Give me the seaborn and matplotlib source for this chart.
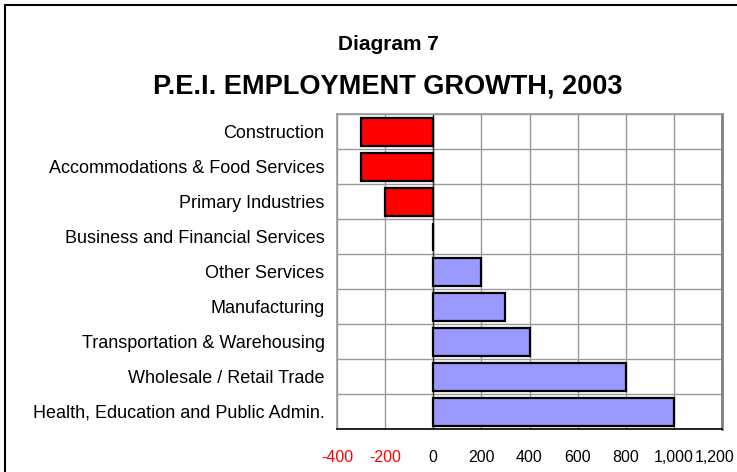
import numpy as np
import matplotlib
matplotlib.use("Agg")
import matplotlib.pyplot as plt
import matplotlib.transforms as mtransforms
from matplotlib.lines import Line2D
import seaborn as sns

# data
categories = [
    "Construction",
    "Accommodations & Food Services",
    "Primary Industries",
    "Business and Financial Services",
    "Other Services",
    "Manufacturing",
    "Transportation & Warehousing",
    "Wholesale / Retail Trade",
    "Health, Education and Public Admin.",
]
growth = [-300, -300, -200, 0, 200, 300, 400, 800, 1000]
x_ticks = [-400, -200, 0, 200, 400, 600, 800, 1000, 1200]
x_tick_labels = ["-400", "-200", "0", "200", "400", "600", "800", "1,000", "1,200"]

sns.set_style("white")
plt.rcParams["font.family"] = ["Liberation Sans", "DejaVu Sans"]
plt.rcParams["text.color"] = "black"
plt.rcParams["xtick.color"] = "black"
plt.rcParams["ytick.color"] = "black"

fig = plt.figure(figsize=(7.37, 4.72), dpi=100)
ax = fig.add_axes([337 / 737, 1 - 429 / 472, 385 / 737, 315 / 472])

colors = ["#FF0000" if v < 0 else "#9999FF" for v in growth]
sns.barplot(x=growth, y=categories, hue=categories, palette=colors, legend=False,
            orient="h", width=0.8, edgecolor="black", linewidth=1.6, saturation=1,
            ax=ax, zorder=3)

ax.set_xlim(-400, 1200)
ax.set_ylim(8.5, -0.5)
ax.set_xticks(x_ticks)
ax.set_xticklabels(x_tick_labels, fontsize=11.5)
ax.tick_params(axis="x", direction="out", length=5, width=1, color="black", pad=10)
ax.tick_params(axis="y", length=0, labelsize=13, pad=9)
for lbl, v in zip(ax.get_xticklabels(), x_ticks):
    lbl.set_color("red" if v < 0 else "black")
for lbl in ax.get_yticklabels():
    lbl.set_color("black")
ax.set_yticks(np.arange(-0.5, 9, 1), minor=True)
ax.tick_params(axis="y", which="minor", length=0)

# keep the last label inside the figure (after tick_params, which resets transforms)
last = ax.get_xticklabels()[-1]
last.set_transform(last.get_transform() +
                   mtransforms.ScaledTranslation(-7 / 100, 0, fig.dpi_scale_trans))

ax.grid(axis="x", which="major", color="#999999", linewidth=1, zorder=0)
ax.grid(axis="y", which="minor", color="#999999", linewidth=1, zorder=0)
ax.axvline(0, color="#333333", linewidth=1, zorder=2)
ax.set_xlabel("")
ax.set_ylabel("")

for side in ["left", "top"]:
    ax.spines[side].set_color("#999999")
    ax.spines[side].set_linewidth(1.2)
ax.spines["right"].set_color("#808080")
ax.spines["right"].set_linewidth(2)
ax.spines["bottom"].set_color("black")
ax.spines["bottom"].set_linewidth(1.2)

fig.text(388 / 737, 1 - 44 / 472, "Diagram 7", ha="center", va="center",
         fontsize=15, fontweight="bold")
fig.text(388 / 737, 1 - 86 / 472, "P.E.I. EMPLOYMENT GROWTH, 2003", ha="center",
         va="center", fontsize=19.5, fontweight="bold")

# outer frame
fig.add_artist(Line2D([5 / 737, 5 / 737], [0, 1 - 5 / 472], color="black", linewidth=1.5))
fig.add_artist(Line2D([5 / 737, 1], [1 - 5 / 472, 1 - 5 / 472], color="black", linewidth=1.5))

fig.savefig("out.png", dpi=100)
